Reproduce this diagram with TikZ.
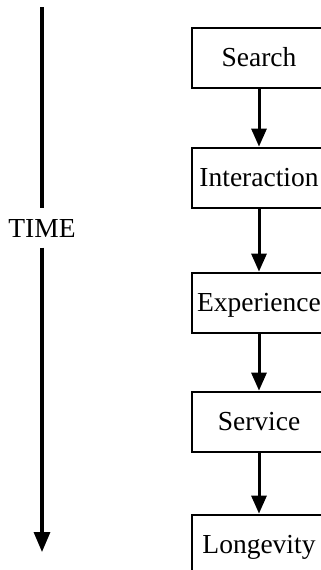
\documentclass[tikz,border=0pt]{standalone}
\usepackage{fontspec}
\setmainfont{Liberation Serif}
\usetikzlibrary{arrows.meta}

\tikzset{
  stage/.style={draw, line width=2.8pt, minimum width=134pt, minimum height=60pt,
                inner sep=0pt, font=\fontsize{27.5}{30}\selectfont,
                text height=18pt, text depth=1pt},
  flow/.style={line width=3pt, -{Triangle[length=18pt,width=15pt]}},
  timeline/.style={line width=3.2pt},
  timearrow/.style={line width=3.2pt, -{Triangle[length=20pt,width=16pt]}}
}

\begin{document}
\begin{tikzpicture}[x=1pt, y=-1pt]
  \useasboundingbox (0,0) rectangle (321,570);
  \clip (0,0) rectangle (321,570);

  % time axis
  \coordinate (ttop) at (42,7);
  \coordinate (tbot) at (42,552);
  \node[font=\fontsize{27.5}{30}\selectfont, inner xsep=0pt, inner ysep=10.5pt,
        text height=18pt, text depth=0pt] (time) at (42,228) {TIME};
  \draw[timeline] (ttop) -- (time.north);
  \draw[timearrow] (time.south) -- (tbot);

  % stages
  \node[stage] (search)     at (259,58)  {Search};
  \node[stage] (interact)   at (259,178) {Interaction};
  \node[stage] (experience) at (259,303) {Experience};
  \node[stage] (service)    at (259,422) {Service};
  \node[stage] (longevity)  at (259,545) {Longevity};

  \draw[flow] (search) -- (interact);
  \draw[flow] (interact) -- (experience);
  \draw[flow] (experience) -- (service);
  \draw[flow] (service) -- (longevity);
\end{tikzpicture}
\end{document}
